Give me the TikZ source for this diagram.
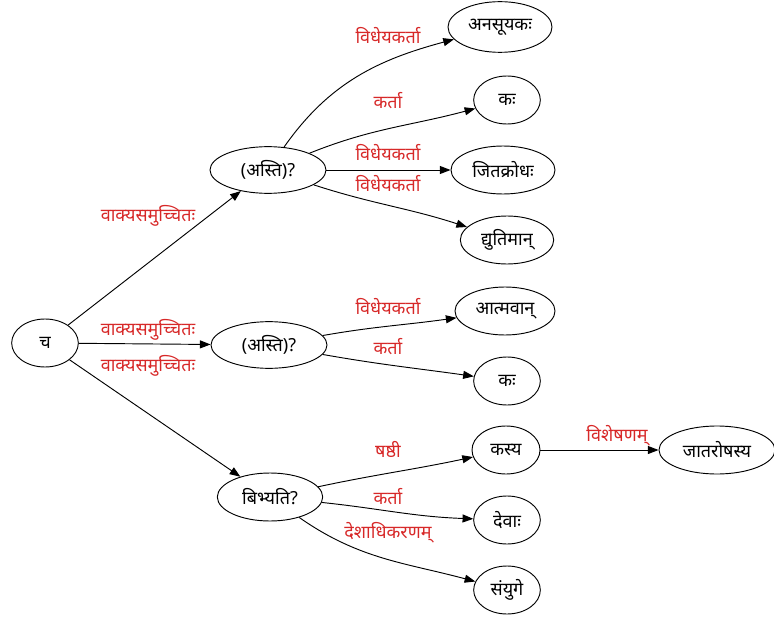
\documentclass[tikz,border=0pt]{standalone}
\usepackage{fontspec}
\setmainfont{Noto Sans}
\newfontfamily\deva[Script=Devanagari]{Noto Sans}
\usepackage{xcolor}
\usetikzlibrary{arrows.meta}
\usetikzlibrary{shapes.geometric}
\definecolor{lblred}{RGB}{215,40,40}

\begin{document}
\begin{tikzpicture}[x=0.75pt, y=0.75pt,
		every node/.style={font=\deva\fontsize{13.5}{16}\selectfont},
		word/.style={ellipse, draw, line width=0.7pt, inner sep=0pt, minimum height=36pt, minimum width=#1},
		word/.default=50pt,
		lbl/.style={text=lblred, inner sep=0pt},
		link/.style={-{Triangle[length=8pt, width=6pt]}, line width=0.7pt}]
		\useasboundingbox (0,0) rectangle (774,626);
		
		\node[word] at (45,283) (cha) {च};
		\node[word=87pt, minimum height=35pt] at (268,456) (asti1) {(अस्ति)?};
		\node[word=87pt, minimum height=35pt] at (269,281) (asti2) {(अस्ति)?};
		\node[word=79pt] at (270,129) (bibhyati) {बिभ्यति?};
		
		\node[word=78pt, minimum height=38pt] at (500,599) (anasuyaka) {अनसूयकः};
		\node[word] at (507,526) (ka1) {कः};
		\node[word=78pt] at (503,456) (jitakrodha) {जितक्रोधः};
		\node[word=70pt] at (507,386) (dyutiman) {द्युतिमान्};
		\node[word=75pt] at (505,315) (atmavan) {आत्मवान्};
		\node[word] at (507,245) (ka2) {कः};
		\node[word=51pt] at (506,176) (kasya) {कस्य};
		\node[word=87pt] at (717,176) (jatarosha) {जातरोषस्य};
		\node[word] at (507,106) (devah) {देवाः};
		\node[word] at (507,36) (samyuge) {संयुगे};
		
		% edge labels
		\node[lbl] at (148,410) (l1) {वाक्यसमुच्चितः};
		\node[lbl] at (148,296) (l2) {वाक्यसमुच्चितः};
		\node[lbl] at (148,260) (l3) {वाक्यसमुच्चितः};
		\node[lbl] at (388,590) (l4) {विधेयकर्ता};
		\node[lbl] at (388,525) (l5) {कर्ता};
		\node[lbl] at (388,473) (l6) {विधेयकर्ता};
		\node[lbl] at (388,442) (l7) {विधेयकर्ता};
		\node[lbl] at (388,319) (l8) {विधेयकर्ता};
		\node[lbl] at (388,279) (l9) {कर्ता};
		\node[lbl] at (388,177) (l10) {षष्ठी};
		\node[lbl] at (388,129) (l11) {कर्ता};
		\node[lbl] at (388,93) (l12) {देशाधिकरणम्};
		\node[lbl] at (617,190) (l13) {विशेषणम्};
		
		\path[link] (cha) edge (asti1);
		\path[link] (cha) edge (asti2);
		\path[link] (cha) edge (bibhyati);
		\path[link] (asti1) edge[out=55, in=195] (anasuyaka);
		\path[link] (asti1) edge[out=22, in=195] (ka1);
		\path[link] (asti1) edge (jitakrodha);
		\path[link] (asti1) edge[out=-18, in=162] (dyutiman);
		\path[link] (asti2) edge[out=10, in=188] (atmavan);
		\path[link] (asti2) edge[out=-10, in=172] (ka2);
		\path[link] (bibhyati) edge[out=12, in=192] (kasya);
		\path[link] (bibhyati) edge[out=-6, in=178] (devah);
		\path[link] (bibhyati) edge[out=-35, in=165] (samyuge);
		\path[link] (kasya) edge (jatarosha);
	\end{tikzpicture}
\end{document}
